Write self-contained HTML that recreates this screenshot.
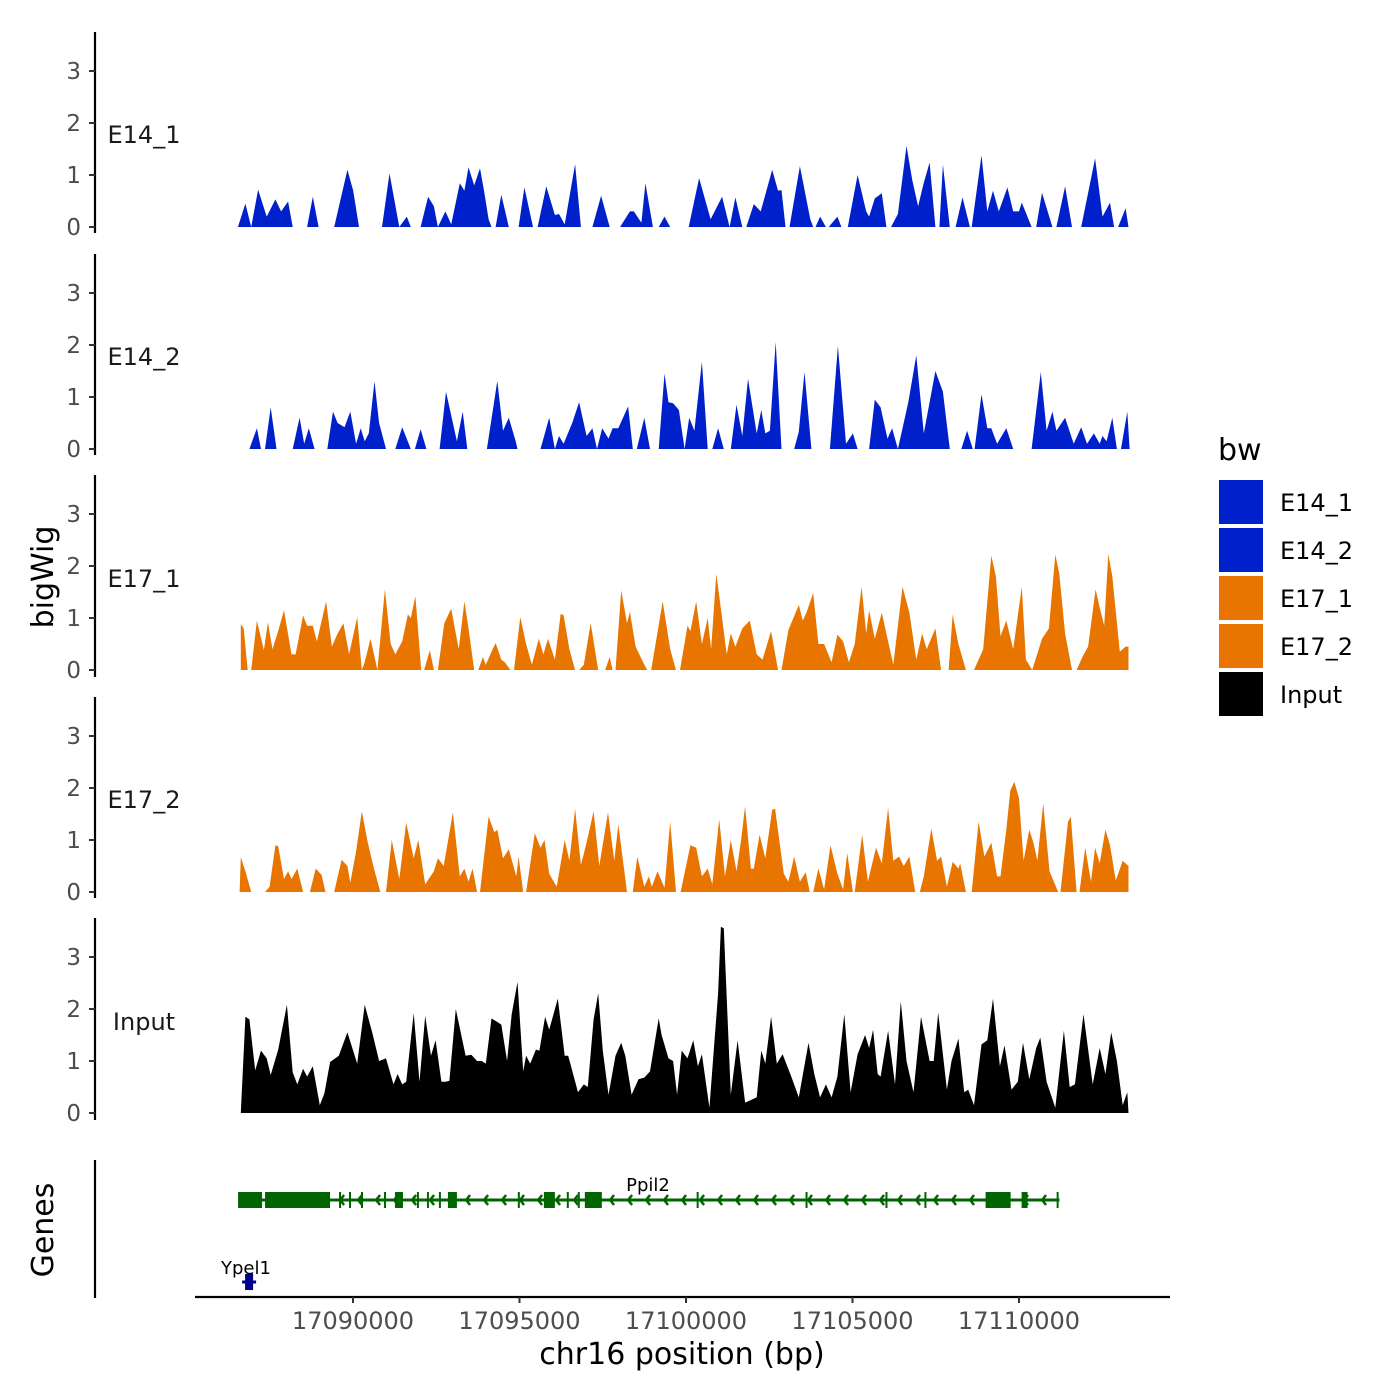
<!DOCTYPE html>
<html><head><meta charset="utf-8"><style>
html,body{margin:0;padding:0;background:#fff;}
svg{display:block;font-family:"DejaVu Sans","Liberation Sans",sans-serif;}
</style></head><body>
<svg id="chart" width="1400" height="1400" viewBox="0 0 1400 1400" xmlns="http://www.w3.org/2000/svg">
<rect width="1400" height="1400" fill="#fff"/>
<g id="tracks"></g>
<g id="genes"></g>
<g id="axes"></g>
<text x="53" y="577" transform="rotate(-90 53 577)" text-anchor="middle" font-size="30" fill="#000">bigWig</text>
<text x="53" y="1230" transform="rotate(-90 53 1230)" text-anchor="middle" font-size="30" fill="#000">Genes</text>
<text x="682" y="1364" text-anchor="middle" font-size="30" fill="#000">chr16 position (bp)</text>
<g>
<text x="1218" y="460" font-size="30" fill="#000">bw</text>
<rect x="1219" y="480" width="44" height="44" fill="#0020cc"/>
<text x="1280" y="511" font-size="24" fill="#000">E14_1</text>
<rect x="1219" y="528" width="44" height="44" fill="#0020cc"/>
<text x="1280" y="559" font-size="24" fill="#000">E14_2</text>
<rect x="1219" y="576" width="44" height="44" fill="#e87500"/>
<text x="1280" y="607" font-size="24" fill="#000">E17_1</text>
<rect x="1219" y="624" width="44" height="44" fill="#e87500"/>
<text x="1280" y="655" font-size="24" fill="#000">E17_2</text>
<rect x="1219" y="672" width="44" height="44" fill="#000"/>
<text x="1280" y="703" font-size="24" fill="#000">Input</text>
</g>
</svg>
<script>
const winStart = 17086457;
const xTicks = [17090000, 17095000, 17100000, 17105000, 17110000];
const yTicks = [0, 1, 2, 3];
const trackNames = ["E14_1", "E14_2", "E17_1", "E17_2", "Input"];
const trackColors = ["#0020cc", "#0020cc", "#e87500", "#e87500", "#000000"];

const e14_1_pos = [87,312,485,692,952,1212,1385,1593,1731,2164,2337,2510,2977,3375,3549,3722,4414,4639,4933,5158,5280,5574,5799,5972,6093,6318,6491,6751,6889,7011,7184,7357,7478,7616,7703,7824,7997,8222,8517,8690,8949,9088,9347,9607,9728,9901,10213,10386,10732,10992,11252,11563,11857,11979,12204,12325,12550,12723,12896,13069,13623,13935,14281,14627,14852,15025,15233,15354,15579,15787,16133,16306,16410,16531,16652,16964,17275,17362,17431,17570,17743,17829,18089,18210,18401,18695,18954,19041,19214,19422,19560,19699,19907,20166,20339,20512,20685,20859,21032,21153,21257,21464,21638,21845,22070,22122,22416,22590,22763,22936,23195,23369,23542,23628,23922,24061,24234,24546,24667,24926,25134,25411,25827,26052,26277,26398,26519,26744,26831];
const e14_1_val = [0,0.45,0,0.72,0.2,0.53,0.3,0.49,0,0,0.58,0,0,1.1,0.7,0,0,1.03,0,0.2,0,0,0.58,0.4,0,0.3,0.05,0.84,0.7,1.15,0.8,1.13,0.7,0.15,0,0,0.62,0,0,0.76,0,0,0.78,0.23,0.25,0.05,1.21,0,0,0.6,0,0,0.3,0.3,0.08,0.84,0,0,0.2,0,0,0.94,0.15,0.58,0,0.57,0,0,0.44,0.3,1.1,0.7,0.71,0,0,1.17,0.15,0,0,0.2,0,0,0.2,0,0,1.0,0.3,0.2,0.55,0.65,0,0,0.25,1.56,0.9,0.4,0.85,1.24,0,0,1.2,0,0,0.57,0,0,1.38,0.3,0.7,0.3,0.76,0.3,0.3,0.47,0,0,0.66,0,0,0.78,0,0,1.32,0.2,0.47,0,0,0.36,0];

const e14_2_pos = [433,658,779,900,1073,1246,1731,1939,2077,2216,2389,2770,2943,3081,3289,3462,3635,3774,3895,4016,4189,4328,4535,4812,5020,5280,5401,5574,5747,6145,6335,6543,6664,6837,6976,7564,7876,8049,8222,8430,8482,9174,9434,9607,9728,9867,10126,10334,10559,10732,10871,11026,11217,11338,11511,11805,11944,12065,12290,12463,12723,12896,13017,13156,13329,13502,13640,13796,14021,14194,14333,14506,14679,14887,15060,15233,15406,15666,15804,15925,16064,16237,16410,16791,16929,17102,17310,17864,18106,18349,18556,18695,19041,19214,19387,19595,19733,19907,20218,20460,20685,21032,21257,21464,21811,21984,22157,22209,22416,22590,22711,22884,23161,23369,23922,24199,24372,24546,24667,24926,25186,25411,25584,25792,25965,26052,26173,26346,26484,26605,26796,26865];
const e14_2_val = [0,0.4,0,0,0.8,0,0,0.6,0.1,0.4,0,0,0.72,0.5,0.42,0.72,0.1,0.4,0.15,0.3,1.3,0.5,0,0,0.42,0,0,0.38,0,0,1.1,0.5,0.15,0.72,0,0,1.31,0.35,0.6,0.15,0,0,0.6,0,0.25,0.1,0.5,0.9,0.25,0.4,0,0.4,0.2,0.4,0.4,0.82,0,0,0.6,0,0,1.45,0.9,0.88,0.75,0,0.6,0.35,1.68,0,0,0.4,0,0,0.85,0.25,1.35,0.3,0.75,0.3,0.35,2.06,0,0,0.33,1.48,0,0,1.98,0.1,0.3,0,0,0.95,0.8,0.2,0.4,0,0.9,1.8,0.3,1.5,1.1,0,0,0.35,0,0,1.05,0.4,0.4,0.1,0.4,0,0,1.48,0.35,0.72,0.35,0.6,0.1,0.42,0.1,0.3,0.1,0.25,0.15,0.6,0,0,0.72,0];

const e17_1_pos = [173,260,381,485,658,866,987,1125,1298,1471,1696,1818,2043,2164,2337,2458,2735,2908,3081,3254,3427,3670,3808,3895,4068,4276,4501,4674,4812,5020,5193,5280,5418,5591,5678,5851,5972,6093,6284,6491,6716,6889,7011,7184,7305,7443,7530,7703,7824,7997,8101,8274,8378,8568,8742,8915,9122,9261,9399,9607,9780,9867,10040,10213,10334,10473,10680,10905,11113,11252,11338,11425,11598,11771,11857,12030,12255,12377,12498,12844,13069,13242,13363,13588,13675,13848,14021,14194,14298,14454,14627,14765,14887,15025,15233,15458,15666,15839,16098,16306,16410,16618,16929,17050,17172,17362,17518,17691,17916,18089,18262,18435,18608,18816,18954,19041,19214,19422,19768,20045,20253,20460,20634,20772,21032,21205,21430,21551,21724,21949,22191,22468,22711,22849,22988,23161,23369,23628,23749,23940,24234,24442,24632,24753,24926,25134,25273,25446,25619,25844,25965,26103,26225,26346,26571,26744,26831];
const e17_1_val = [0.88,0.8,0,0,0.95,0.38,0.92,0.4,0.75,1.15,0.3,0.3,1.05,0.85,0.85,0.55,1.32,0.45,0.7,0.9,0.3,1.02,0,0.15,0.6,0,1.55,0.5,0.3,0.55,1.07,1.0,1.42,0,0,0.38,0,0,0.9,1.18,0.4,1.32,0.8,0,0,0.25,0.1,0.35,0.52,0.2,0.15,0,0,1.02,0.5,0.1,0.6,0.3,0.6,0.2,1.08,1.05,0.4,0,0,0.1,0.9,0,0,0.25,0,0,1.53,0.9,1.12,0.45,0.15,0,0,1.32,0.4,0,0,0.85,0.75,1.32,0.5,1.0,0.4,1.85,1.0,0.3,0.7,0.45,0.8,0.95,0.3,0.2,0.75,0,0,0.77,1.25,0.95,1.12,1.48,0.5,0.5,0.15,0.68,0.55,0.15,0.5,1.6,0.7,1.15,0.6,1.1,0.1,1.6,1.1,0.2,0.7,0.4,0.8,0,0,1.07,0.5,0,0,0.4,2.2,1.8,0.65,0.95,0.4,1.6,0.2,0,0.6,0.8,2.22,1.85,0.7,0,0,0.25,0.45,1.55,1.2,0.85,2.23,1.8,0.35,0.45,0.45];

const e17_2_pos = [138,173,312,485,900,1039,1212,1298,1471,1593,1696,1869,2043,2250,2423,2597,2718,2977,3202,3375,3462,3635,3808,3981,4154,4362,4535,4708,4933,5141,5366,5505,5712,5972,6093,6266,6543,6751,6889,7011,7132,7270,7357,7616,7790,7876,8049,8222,8447,8517,8655,8742,9001,9174,9295,9434,9659,9901,10040,10213,10386,10559,10767,10940,11200,11390,11511,11771,11944,12082,12290,12429,12515,12688,12896,13069,13242,13381,13675,13848,14021,14194,14333,14540,14714,14887,15060,15198,15319,15492,15579,15752,15925,16133,16219,16479,16618,16791,16964,17137,17258,17362,17518,17691,17881,18089,18262,18383,18556,18608,18833,19006,19249,19422,19612,19768,19941,20080,20253,20426,20564,20685,20910,21084,21205,21378,21551,21724,21776,21949,22122,22330,22503,22711,22884,22988,23161,23282,23403,23542,23680,23853,23974,24096,24269,24459,24719,24788,25013,25100,25273,25359,25532,25705,25827,25965,26138,26277,26450,26657,26831];
const e17_2_val = [0,0.67,0.4,0,0,0.1,0.9,0.88,0.25,0.4,0.25,0.45,0,0,0.45,0.33,0,0,0.62,0.5,0.18,0.78,1.55,0.97,0.5,0,0,1.0,0.25,1.33,0.65,1.0,0.15,0.4,0.65,0.5,1.53,0.3,0.45,0.2,0.45,0,0,1.45,1.15,1.2,0.65,0.82,0.3,0.68,0,0,1.13,0.85,1.0,0.35,0.1,1.0,0.6,1.6,0.52,0.95,1.55,0.5,1.53,0.6,1.3,0,0,0.68,0.1,0.3,0.1,0.4,0.08,1.35,0,0,0.9,0.85,0.3,0.45,0.15,1.4,0.3,1.0,0.4,1.0,1.65,0.45,0.45,1.1,0.65,1.58,1.6,0.35,0.2,0.68,0.2,0.38,0,0,0.45,0.05,0.9,0.35,0.05,0.75,0,0,1.1,0.2,0.85,0.55,1.62,0.6,0.68,0.5,0.68,0,0,0.3,1.22,0.6,0.68,0.1,0.58,0.45,0.55,0,0,1.35,0.68,0.95,0.3,0.3,1.2,1.95,2.12,1.8,0.6,1.2,0.95,0.6,1.7,0.4,0,0,1.35,1.45,0,0,0.85,0.2,0.85,0.55,1.2,0.9,0.22,0.6,0.5];

const input_pos = [173,312,433,606,779,952,1073,1298,1558,1731,1869,2043,2164,2337,2545,2683,2856,3116,3375,3670,3895,4120,4328,4535,4760,4881,5020,5141,5366,5539,5712,5885,6024,6197,6318,6439,6630,6837,6924,7097,7270,7409,7530,7703,7876,7997,8170,8309,8482,8655,8742,8863,9036,9140,9313,9434,9694,9901,10005,10299,10473,10594,10767,10905,11044,11217,11425,11598,11719,11909,12117,12290,12463,12723,12809,13017,13156,13277,13415,13588,13761,13900,14021,14246,14506,14592,14679,14887,15094,15319,15492,15666,15804,15925,16098,16271,16445,16704,16929,17223,17397,17570,17743,17916,18089,18297,18487,18695,18920,19041,19162,19301,19387,19612,19820,19993,20166,20374,20599,20859,20980,21118,21378,21516,21724,21897,22018,22191,22416,22590,22763,22970,23109,23317,23507,23663,23853,24061,24182,24372,24632,24892,25065,25221,25480,25757,25965,26138,26311,26484,26657,26796,26831];
const input_val = [0,1.85,1.8,0.82,1.2,1.05,0.73,1.22,2.08,0.78,0.55,0.85,0.7,0.9,0.15,0.38,0.98,1.1,1.55,0.95,2.08,1.55,1.0,1.05,0.55,0.75,0.55,0.6,1.92,0.6,1.87,1.1,1.4,0.6,0.6,0.62,2.0,1.37,1.1,1.12,1.0,1.0,0.95,1.82,1.75,1.7,1.0,1.9,2.52,0.8,1.1,0.95,1.22,1.2,1.85,1.6,2.2,1.1,1.1,0.4,0.55,0.5,1.8,2.3,1.2,0.35,1.1,1.35,1.1,0.35,0.65,0.68,0.8,1.82,1.5,1.05,1.0,0.35,1.2,1.05,1.4,0.9,1.13,0.1,2.3,3.58,3.55,0.35,1.4,0.2,0.25,0.3,1.2,0.95,1.85,0.95,1.13,0.7,0.3,1.35,0.75,0.3,0.55,0.3,0.7,1.9,0.4,1.13,1.5,1.25,1.6,0.75,0.7,1.58,0.55,2.15,1.0,0.4,1.85,1.0,1.0,1.93,0.45,1.0,1.43,0.4,0.45,0.15,1.32,1.4,2.2,0.9,1.3,0.45,0.6,1.35,0.65,1.25,1.45,0.6,0.1,1.58,0.5,0.55,1.9,0.55,1.25,0.75,1.55,1.0,0.15,0.4,0];

const trackPos = [e14_1_pos, e14_2_pos, e17_1_pos, e17_2_pos, input_pos];
const trackVal = [e14_1_val, e14_2_val, e17_1_val, e17_2_val, input_val];

// gene model (bp)
const ppil2Start = 17086549, ppil2End = 17111217;
const ppil2ExonStart = [17086549,17087359,17091260,17092851,17095732,17096962,17108996,17110077];
const ppil2ExonEnd   = [17087269,17089310,17091500,17093121,17096062,17097472,17109747,17110257];
const ppil2Ticks = [17089610,17089910,17090270,17090960,17091950,17092250,17092610,17094980,17096450,17096780,17100350,17103620,17106020,17107190,17109440,17111160];
const ypel1Start = 17086670, ypel1End = 17087090;

const NS = "http://www.w3.org/2000/svg";
const xScale = bp => 353 + (bp - 17090000) * 166.5 / 5000;
const baselines = [227, 449, 670, 892, 1113];
const unitPx = 52;
const axisTop = [32, 254, 475, 697, 918];
const axisBot = [233, 455, 677, 898, 1120];
const labelY = [143, 365, 587, 808, 1030];

function mk(tag, attrs, parent) {
  const el = document.createElementNS(NS, tag);
  for (const k in attrs) el.setAttribute(k, attrs[k]);
  parent.appendChild(el);
  return el;
}
const gT = document.getElementById('tracks');
const gA = document.getElementById('axes');
const gG = document.getElementById('genes');

trackNames.forEach((name, t) => {
  const base = baselines[t];
  const pos = trackPos[t], val = trackVal[t];
  let d = "M" + xScale(winStart + pos[0]).toFixed(1) + "," + base;
  for (let i = 0; i < pos.length; i++) {
    d += " L" + xScale(winStart + pos[i]).toFixed(1) + "," + (base - val[i] * unitPx).toFixed(1);
  }
  d += " L" + xScale(winStart + pos[pos.length - 1]).toFixed(1) + "," + base + " Z";
  const p = mk('path', {d: d, fill: trackColors[t], stroke: 'none'}, gT);
  
  

  const ax = mk('line', {x1: 95, x2: 95, y1: axisTop[t], y2: axisBot[t], stroke: '#000', 'stroke-width': 2.2}, gA);
  
  
  yTicks.forEach(v => {
    const y = base - v * unitPx;
    const tk = mk('line', {x1: 89, x2: 95, y1: y, y2: y, stroke: '#333', 'stroke-width': 2}, gA);
    
    
    const tl = mk('text', {x: 81, y: y + 8, 'text-anchor': 'end', 'font-size': 23, fill: '#4d4d4d'}, gA);
    tl.textContent = v;
    
    
  });
  const lb = mk('text', {x: 144, y: labelY[t], 'text-anchor': 'middle', 'font-size': 24, fill: '#1a1a1a'}, gA);
  lb.textContent = name;
  
  
});

// genes panel axis
const gax = mk('line', {x1: 95, x2: 95, y1: 1160, y2: 1298, stroke: '#000', 'stroke-width': 2.2}, gA);


// x axis
const xax = mk('line', {x1: 195, x2: 1170, y1: 1297, y2: 1297, stroke: '#000', 'stroke-width': 2.2}, gA);


xTicks.forEach(v => {
  const x = xScale(v);
  const tk = mk('line', {x1: x, x2: x, y1: 1297, y2: 1303, stroke: '#333', 'stroke-width': 2}, gA);
  
  
  const tl = mk('text', {x: x, y: 1329, 'text-anchor': 'middle', 'font-size': 24, fill: '#4d4d4d'}, gA);
  tl.textContent = v;
  
  
});

// Ppil2 gene
const gy = 1200, green = '#006400';
const gl = mk('line', {x1: xScale(ppil2Start), x2: xScale(ppil2End), y1: gy, y2: gy, stroke: green, 'stroke-width': 3}, gG);


for (let x = xScale(ppil2Start) + 12; x < xScale(ppil2End) - 6; x += 18) {
  const ch = mk('polyline', {points: (x + 4) + ',' + (gy - 5) + ' ' + x + ',' + gy + ' ' + (x + 4) + ',' + (gy + 5), fill: 'none', stroke: green, 'stroke-width': 2.5}, gG);
  
  
}
ppil2Ticks.forEach(b => {
  const x = xScale(b);
  const tk = mk('line', {x1: x, x2: x, y1: gy - 8, y2: gy + 8, stroke: green, 'stroke-width': 2}, gG);
  
  
});
ppil2ExonStart.forEach((s, i) => {
  const x1 = xScale(s), x2 = xScale(ppil2ExonEnd[i]);
  const r = mk('rect', {x: x1, y: gy - 8, width: Math.max(2, x2 - x1), height: 16, fill: green}, gG);
  
  
});
const pl = mk('text', {x: 648, y: 1191, 'text-anchor': 'middle', 'font-size': 18, fill: '#000'}, gG);
pl.textContent = 'Ppil2';



// Ypel1 gene
const yx1 = xScale(ypel1Start), yx2 = xScale(ypel1End);
const yl = mk('line', {x1: yx1, x2: yx2, y1: 1282, y2: 1282, stroke: '#00008b', 'stroke-width': 3}, gG);


const ye = mk('rect', {x: (yx1 + yx2) / 2 - 4, y: 1274, width: 8, height: 16, fill: '#00008b'}, gG);


const ylab = mk('text', {x: 246, y: 1274, 'text-anchor': 'middle', 'font-size': 18, fill: '#000'}, gG);
ylab.textContent = 'Ypel1';


</script>
</body></html>
